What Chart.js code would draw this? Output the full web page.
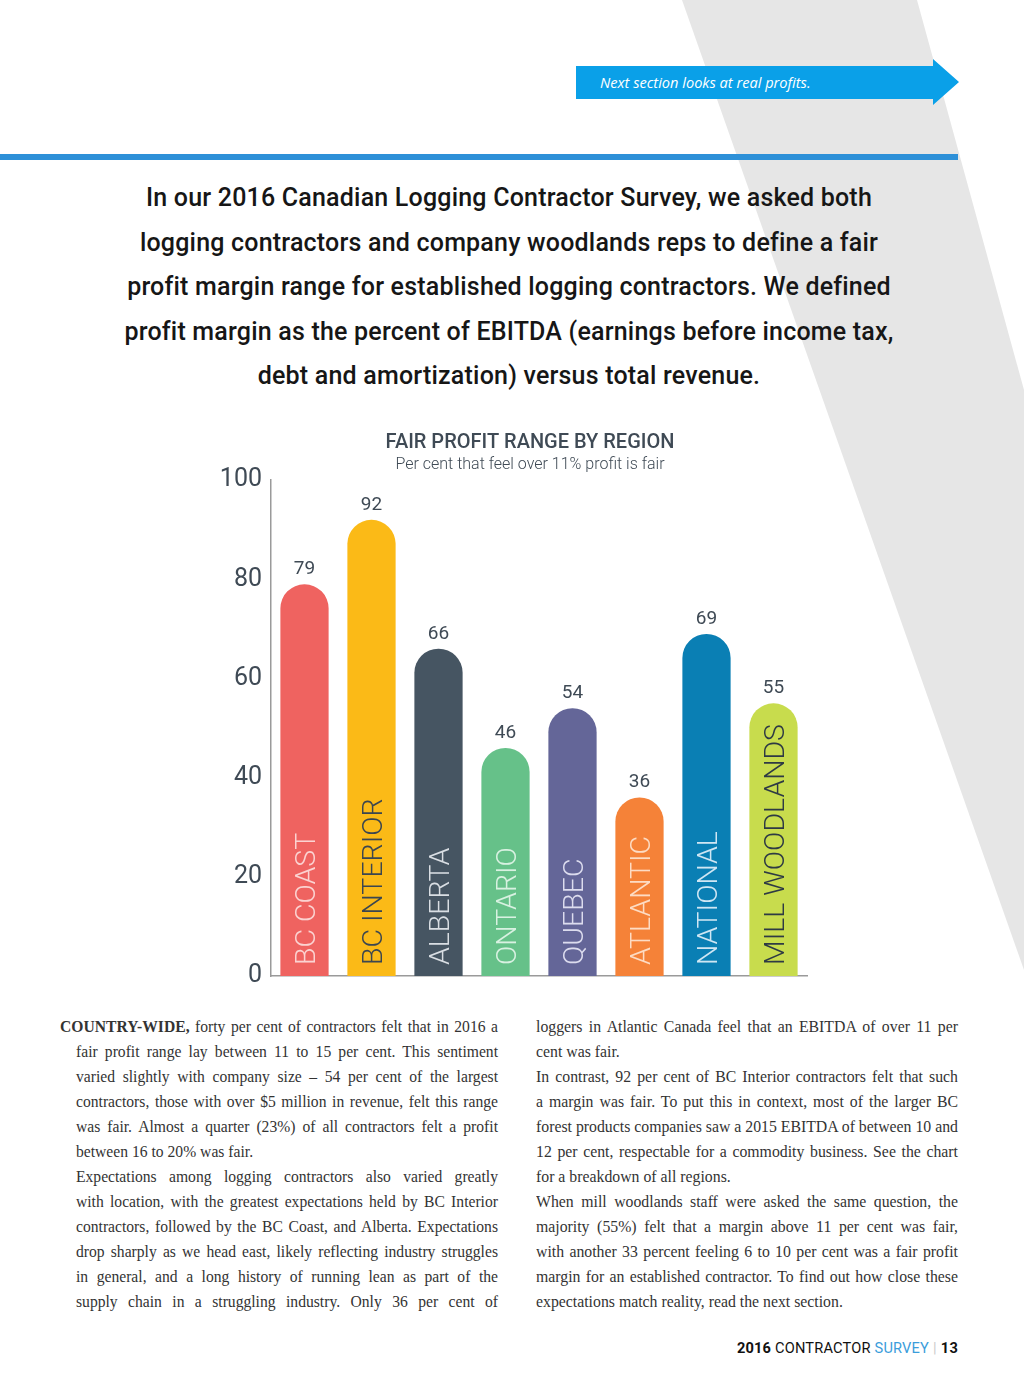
<!DOCTYPE html>
<html>
<head>
<meta charset="utf-8">
<script src="https://cdn.jsdelivr.net/npm/chart.js@4.4.1/dist/chart.umd.min.js"></script>
<style>
  html, body { margin: 0; padding: 0; background: #fff; }
  body { width: 1024px; height: 1393px; position: relative; overflow: hidden; font-family: Roboto, sans-serif; }
  #stripe { position: absolute; left: 0; top: 0; width: 1024px; height: 1393px; background: #e6e6e6;
    clip-path: polygon(682px 0, 917px 0, 1024px 390px, 1024px 970px); }
  #banner { position: absolute; left: 576px; top: 59px; width: 383px; height: 46px; background: #0aa0e8;
    clip-path: polygon(0 7px, 357px 7px, 357px 0, 383px 23px, 357px 46px, 357px 40px, 0 40px); }
  #banner span { position: absolute; left: 24px; top: 13px; color: #fff; font-family: "Open Sans", sans-serif;
    font-style: italic; font-size: 14.6px; }
  #rule { position: absolute; left: 0; top: 154px; width: 958px; height: 6px; background: #2d90d8; }
  #intro { position: absolute; left: 0; top: 176px; width: 1018px; text-align: center; font-size: 25px;
    line-height: 44.5px; color: #161616; font-weight: 500; letter-spacing: 0.2px; }
  #chartBox { position: absolute; left: 190px; top: 420px; width: 680px; height: 580px; }
  .col { position: absolute; top: 1014px; font-family: "Liberation Serif", serif; font-size: 17.5px;
    line-height: 25px; color: #333; transform-origin: 0 0; }
  .col div { white-space: nowrap; }
  .col .j { text-align: justify; text-align-last: justify; }
  .col .l { text-align: left; }
  #footer { position: absolute; right: 66px; top: 1339px; font-size: 14.6px; color: #111; letter-spacing: 0.2px; }
  #footer b { font-weight: 700; }
  #footer .blue { color: #3b9ddb; }
  #footer .sep { color: #ccc; margin: 0 4px; }
</style>
</head>
<body>
<div id="stripe"></div>
<div id="banner"><span>Next section looks at real profits.</span></div>
<div id="rule"></div>
<div id="intro">
  In our 2016 Canadian Logging Contractor Survey, we asked both<br>
  logging contractors and company woodlands reps to define a fair<br>
  profit margin range for established logging contractors. We defined<br>
  profit margin as the percent of EBITDA (earnings before income tax,<br>
  debt and amortization) versus total revenue.
</div>
<div id="chartBox"><canvas id="barChart" width="680" height="580"></canvas></div>

<div class="col" data-left="60" data-width="438" data-indent="16">
  <div class="j first"><b>COUNTRY-WIDE,</b> forty per cent of contractors felt that in 2016 a</div>
  <div class="j">fair profit range lay between 11 to 15 per cent. This sentiment</div>
  <div class="j">varied slightly with company size – 54 per cent of the largest</div>
  <div class="j">contractors, those with over $5 million in revenue, felt this range</div>
  <div class="j">was fair. Almost a quarter (23%) of all contractors felt a profit</div>
  <div class="l">between 16 to 20% was fair.</div>
  <div class="j">Expectations among logging contractors also varied greatly</div>
  <div class="j">with location, with the greatest expectations held by BC Interior</div>
  <div class="j">contractors, followed by the BC Coast, and Alberta. Expectations</div>
  <div class="j">drop sharply as we head east, likely reflecting industry struggles</div>
  <div class="j">in general, and a long history of running lean as part of the</div>
  <div class="j">supply chain in a struggling industry. Only 36 per cent of</div>
</div>
<div class="col" data-left="536" data-width="422" data-indent="0">
  <div class="j">loggers in Atlantic Canada feel that an EBITDA of over 11 per</div>
  <div class="l">cent was fair.</div>
  <div class="j">In contrast, 92 per cent of BC Interior contractors felt that such</div>
  <div class="j">a margin was fair. To put this in context, most of the larger BC</div>
  <div class="j">forest products companies saw a 2015 EBITDA of between 10 and</div>
  <div class="j">12 per cent, respectable for a commodity business. See the chart</div>
  <div class="l">for a breakdown of all regions.</div>
  <div class="j">When mill woodlands staff were asked the same question, the</div>
  <div class="j">majority (55%) felt that a margin above 11 per cent was fair,</div>
  <div class="j">with another 33 percent feeling 6 to 10 per cent was a fair profit</div>
  <div class="j">margin for an established contractor. To find out how close these</div>
  <div class="l">expectations match reality, read the next section.</div>
</div>

<div id="footer"><b>2016</b> CONTRACTOR <span class="blue">SURVEY</span><span class="sep">|</span><b>13</b></div>

<script>
// chart data
var regions = ['BC COAST', 'BC INTERIOR', 'ALBERTA', 'ONTARIO', 'QUEBEC', 'ATLANTIC', 'NATIONAL', 'MILL WOODLANDS'];
var fairShare = [79, 92, 66, 46, 54, 36, 69, 55];
var yTicks = [0, 20, 40, 60, 80, 100];

var barColors = ['#ef6360', '#fbba17', '#465562', '#66c189', '#646698', '#f58238', '#0a7fb4', '#c8dc4d'];
var nameColors = ['#fbd3d1', '#3b4650', '#d9dee3', '#d8f1e1', '#dcdcee', '#fddcc4', '#cfe6f3', '#2e3a44'];
var inkColor = '#3f4a55';

// squeeze the two text columns so the longest line just fits
document.querySelectorAll('.col').forEach(function(col) {
    var left = +col.dataset.left, width = +col.dataset.width, indent = +col.dataset.indent;
    var widest = 0;
    col.querySelectorAll('div').forEach(function(line) {
        var span = document.createElement('span');
        span.innerHTML = line.innerHTML;
        line.innerHTML = '';
        line.appendChild(span);
        var room = line.classList.contains('first') ? width : width - indent;
        widest = Math.max(widest, span.getBoundingClientRect().width / room);
        line.innerHTML = span.innerHTML;
    });
    var s = Math.min(1, 1 / widest);
    col.style.left = left + 'px';
    col.style.width = (width / s) + 'px';
    col.style.transform = 'scaleX(' + s + ')';
    col.querySelectorAll('div').forEach(function(line) {
        if (!line.classList.contains('first') && indent) line.style.marginLeft = (indent / s) + 'px';
    });
});

// draws the value above each bar and the region name inside it
var barLabels = {
    id: 'barLabels',
    afterDatasetsDraw: function(chart) {
        var ctx = chart.ctx;
        var meta = chart.getDatasetMeta(0);
        meta.data.forEach(function(bar, i) {
            ctx.save();
            ctx.fillStyle = inkColor;
            ctx.font = '400 19px Roboto';
            ctx.textAlign = 'center';
            ctx.textBaseline = 'middle';
            ctx.fillText(fairShare[i], bar.x, bar.y - 15);

            ctx.translate(bar.x, bar.base - 11);
            ctx.rotate(-Math.PI / 2);
            ctx.font = '300 28.5px Roboto';
            ctx.fillStyle = nameColors[i];
            ctx.textAlign = 'left';
            ctx.textBaseline = 'alphabetic';
            ctx.fillText(regions[i], 0, 10.5);
            ctx.restore();
        });
    }
};

var ctx = document.getElementById('barChart').getContext('2d');
var barChart = new Chart(ctx, {
    type: 'bar',
    data: {
        labels: regions,
        datasets: [{
            data: fairShare,
            backgroundColor: barColors,
            borderWidth: 0,
            borderRadius: { topLeft: 24, topRight: 24, bottomLeft: 0, bottomRight: 0 },
            borderSkipped: 'bottom',
            barPercentage: 0.72,
            categoryPercentage: 1
        }]
    },
    options: {
        responsive: false,
        animation: false,
        layout: { padding: { left: 0, right: 0, top: 0, bottom: 24 } },
        plugins: {
            legend: { display: false },
            tooltip: { enabled: false },
            title: {
                display: true,
                text: 'FAIR PROFIT RANGE BY REGION',
                color: inkColor,
                font: { family: 'Roboto', size: 20, weight: '500' },
                padding: { top: 11, bottom: 0 }
            },
            subtitle: {
                display: true,
                text: 'Per cent that feel over 11% profit is fair',
                color: inkColor,
                font: { family: 'Roboto', size: 16, weight: '300' },
                padding: { top: 0, bottom: 6 }
            }
        },
        scales: {
            x: {
                grid: { display: false, drawTicks: false },
                border: { display: true, color: '#9a9a9a', width: 1.5 },
                ticks: { display: false }
            },
            y: {
                min: 0,
                max: 100,
                afterBuildTicks: function(scale) {
                    scale.ticks = yTicks.map(function(v) { return { value: v }; });
                },
                afterFit: function(scale) { scale.width = 81; },
                grid: { display: false, drawTicks: false },
                border: { display: true, color: '#9a9a9a', width: 1.5 },
                ticks: {
                    padding: 9,
                    color: inkColor,
                    font: { family: 'Roboto', size: 25, weight: '400' }
                }
            },
            // empty right axis, only keeps the space right of the bars
            side: {
                position: 'right',
                afterFit: function(scale) { scale.width = 63; },
                grid: { display: false, drawTicks: false },
                border: { display: false },
                ticks: { display: false }
            }
        }
    },
    plugins: [barLabels]
});
</script>
</body>
</html>
